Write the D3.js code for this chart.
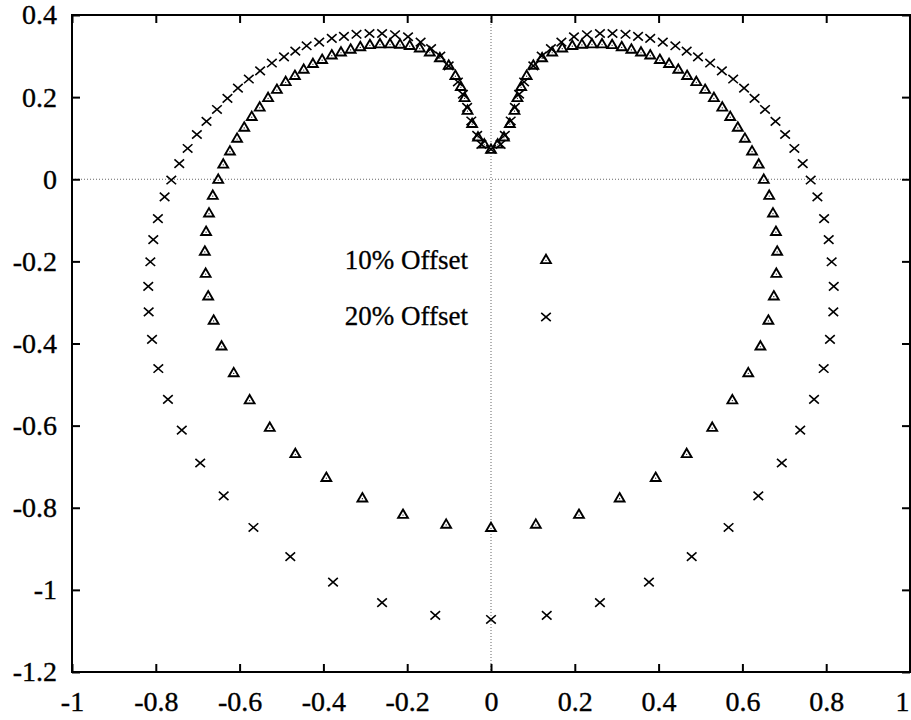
<!DOCTYPE html>
<html>
<head>
<meta charset="utf-8">
<script src="https://cdn.jsdelivr.net/npm/d3@7"></script>
<style>
  html, body { margin: 0; padding: 0; background: #fff; }
  svg { display: block; }
  text { font-family: "Liberation Serif", "Times New Roman", Times, serif; fill: #000; }
</style>
</head>
<body>
<svg id="chart" width="911" height="720"></svg>
<script>
// ---- data ----
const xTicks = [-1, -0.8, -0.6, -0.4, -0.2, 0, 0.2, 0.4, 0.6, 0.8, 1];
const yTicks = [-1.2, -1, -0.8, -0.6, -0.4, -0.2, 0, 0.2, 0.4];
const seriesNames = ["10% Offset", "20% Offset"];

// 10% offset (triangles)
const offset10 = [
  [0.000, -0.848],
  [-0.107, -0.840], [-0.210, -0.816], [-0.307, -0.776], [-0.393, -0.726], [-0.467, -0.668],
  [-0.528, -0.604], [-0.576, -0.537], [-0.614, -0.471], [-0.643, -0.406], [-0.662, -0.343],
  [-0.675, -0.284], [-0.681, -0.229], [-0.683, -0.175], [-0.680, -0.127], [-0.673, -0.082],
  [-0.664, -0.039], [-0.651, 0.000], [-0.639, 0.037], [-0.623, 0.069], [-0.606, 0.100],
  [-0.589, 0.127], [-0.571, 0.153], [-0.552, 0.176], [-0.532, 0.199], [-0.511, 0.219],
  [-0.490, 0.238], [-0.468, 0.253], [-0.447, 0.268], [-0.425, 0.282], [-0.403, 0.292],
  [-0.380, 0.303], [-0.358, 0.310], [-0.335, 0.317], [-0.312, 0.323], [-0.289, 0.328],
  [-0.265, 0.330], [-0.241, 0.330], [-0.217, 0.329], [-0.194, 0.326], [-0.170, 0.320],
  [-0.146, 0.310], [-0.122, 0.296], [-0.101, 0.278], [-0.085, 0.253], [-0.072, 0.226],
  [-0.063, 0.199], [-0.056, 0.168], [-0.045, 0.136], [-0.031, 0.103], [-0.016, 0.086],
  [0.000, 0.073],
  [0.016, 0.086], [0.031, 0.103], [0.045, 0.136], [0.056, 0.168], [0.063, 0.199],
  [0.072, 0.226], [0.085, 0.253], [0.101, 0.278], [0.122, 0.296], [0.146, 0.310],
  [0.170, 0.320], [0.194, 0.326], [0.217, 0.329], [0.241, 0.330], [0.265, 0.330],
  [0.289, 0.328], [0.312, 0.323], [0.335, 0.317], [0.358, 0.310], [0.380, 0.303],
  [0.403, 0.292], [0.425, 0.282], [0.447, 0.268], [0.468, 0.253], [0.490, 0.238],
  [0.511, 0.219], [0.532, 0.199], [0.552, 0.176], [0.571, 0.153], [0.589, 0.127],
  [0.606, 0.100], [0.623, 0.069], [0.639, 0.037], [0.651, 0.000], [0.664, -0.039],
  [0.673, -0.082], [0.680, -0.127], [0.683, -0.175], [0.681, -0.229], [0.675, -0.284],
  [0.662, -0.343], [0.643, -0.406], [0.614, -0.471], [0.576, -0.537], [0.528, -0.604],
  [0.467, -0.668], [0.393, -0.726], [0.307, -0.776], [0.210, -0.816], [0.107, -0.840]
];

// 20% offset (crosses)
const offset20 = [
  [0.000, -1.072],
  [-0.133, -1.062], [-0.260, -1.031], [-0.377, -0.981], [-0.479, -0.919], [-0.567, -0.848],
  [-0.638, -0.771], [-0.694, -0.691], [-0.738, -0.611], [-0.771, -0.536], [-0.794, -0.461],
  [-0.809, -0.390], [-0.817, -0.323], [-0.818, -0.261], [-0.813, -0.201], [-0.806, -0.147],
  [-0.795, -0.096], [-0.779, -0.043], [-0.763, -0.002], [-0.744, 0.038], [-0.724, 0.075],
  [-0.702, 0.109], [-0.679, 0.141], [-0.654, 0.170], [-0.629, 0.197], [-0.604, 0.222],
  [-0.578, 0.244], [-0.551, 0.264], [-0.523, 0.283], [-0.494, 0.298], [-0.467, 0.312],
  [-0.440, 0.325], [-0.410, 0.334], [-0.380, 0.343], [-0.351, 0.348], [-0.321, 0.353],
  [-0.290, 0.355], [-0.260, 0.355], [-0.229, 0.352], [-0.198, 0.347], [-0.168, 0.334],
  [-0.143, 0.318], [-0.121, 0.300], [-0.101, 0.276], [-0.079, 0.237], [-0.067, 0.207],
  [-0.057, 0.175], [-0.047, 0.142], [-0.033, 0.107], [-0.023, 0.085],
  [0.000, 0.073],
  [0.023, 0.085], [0.033, 0.107], [0.047, 0.142], [0.057, 0.175], [0.067, 0.207],
  [0.079, 0.237], [0.101, 0.276], [0.121, 0.300], [0.143, 0.318], [0.168, 0.334],
  [0.198, 0.347], [0.229, 0.352], [0.260, 0.355], [0.290, 0.355], [0.321, 0.353],
  [0.351, 0.348], [0.380, 0.343], [0.410, 0.334], [0.440, 0.325], [0.467, 0.312],
  [0.494, 0.298], [0.523, 0.283], [0.551, 0.264], [0.578, 0.244], [0.604, 0.222],
  [0.629, 0.197], [0.654, 0.170], [0.679, 0.141], [0.702, 0.109], [0.724, 0.075],
  [0.744, 0.038], [0.763, -0.002], [0.779, -0.043], [0.795, -0.096], [0.806, -0.147],
  [0.813, -0.201], [0.818, -0.261], [0.817, -0.323], [0.809, -0.390], [0.794, -0.461],
  [0.771, -0.536], [0.738, -0.611], [0.694, -0.691], [0.638, -0.771], [0.567, -0.848],
  [0.479, -0.919], [0.377, -0.981], [0.260, -1.031], [0.133, -1.062]
];

// ---- chart ----
const svg = d3.select("#chart");
const L = 72, R = 910, T = 15, B = 672;
const x = d3.scaleLinear().domain([-1, 1]).range([L, R]);
const y = d3.scaleLinear().domain([-1.2, 0.4]).range([B, T]);
const fmt = d => String(+(+d).toFixed(1));
const FS = 28;
const SERIF = "'Liberation Serif', 'Times New Roman', Times, serif";

// zero lines (dotted)
svg.append("line").attr("x1", L).attr("x2", R).attr("y1", y(0)).attr("y2", y(0))
  .attr("stroke", "#666").attr("stroke-width", 1).attr("stroke-dasharray", "1,2");
svg.append("line").attr("x1", x(0)).attr("x2", x(0)).attr("y1", T).attr("y2", B)
  .attr("stroke", "#666").attr("stroke-width", 1).attr("stroke-dasharray", "1,2");

function styleAxis(g, showText) {
  g.attr("font-family", SERIF);
  g.select(".domain").remove();
  g.selectAll(".tick line").attr("stroke", "#000").attr("stroke-width", 2);
  if (showText) {
    g.selectAll(".tick text").attr("font-size", FS).attr("font-family", SERIF)
      .attr("fill", "#000").attr("stroke", "#000").attr("stroke-width", 0.35);
  } else {
    g.selectAll(".tick text").remove();
  }
}

svg.append("g").attr("transform", `translate(0,${B})`)
  .call(d3.axisBottom(x).tickValues(xTicks).tickFormat(fmt).tickSizeInner(-8).tickSizeOuter(0).tickPadding(19))
  .call(g => styleAxis(g, true))
  .call(g => g.selectAll(".tick text").filter(d => d === 1).attr("text-anchor", "end").attr("x", -1));
svg.append("g").attr("transform", `translate(0,${T})`)
  .call(d3.axisTop(x).tickValues(xTicks).tickSizeInner(-8).tickSizeOuter(0))
  .call(g => styleAxis(g, false));
svg.append("g").attr("transform", `translate(${L},0)`)
  .call(d3.axisLeft(y).tickValues(yTicks).tickFormat(fmt).tickSizeInner(-8).tickSizeOuter(0).tickPadding(15))
  .call(g => styleAxis(g, true));
svg.append("g").attr("transform", `translate(${R},0)`)
  .call(d3.axisRight(y).tickValues(yTicks).tickSizeInner(-8).tickSizeOuter(0))
  .call(g => styleAxis(g, false));

// frame
svg.append("rect").attr("x", L).attr("y", T).attr("width", R - L).attr("height", B - T)
  .attr("fill", "none").attr("stroke", "#000").attr("stroke-width", 2);

const triPath = "M0,-4.8L4.9,3.6L-4.9,3.6Z";
const crossPath = "M-4.8,-4.2L4.8,4.2M4.8,-4.2L-4.8,4.2";

function drawTri(sel) {
  sel.append("path").attr("d", triPath).attr("fill", "#fff").attr("stroke", "#000").attr("stroke-width", 1.9);
  sel.append("circle").attr("cx", 0).attr("cy", 0.8).attr("r", 0.6).attr("fill", "#000");
}
function drawCross(sel) {
  sel.append("path").attr("d", crossPath).attr("fill", "none").attr("stroke", "#000").attr("stroke-width", 1.6);
}

svg.append("g").selectAll("g").data(offset10).join("g")
  .attr("transform", d => `translate(${x(d[0])},${y(d[1])})`)
  .call(drawTri);
svg.append("g").selectAll("g").data(offset20).join("g")
  .attr("transform", d => `translate(${x(d[0])},${y(d[1])})`)
  .call(drawCross);

// legend
const legend = svg.append("g");
const legRows = [
  { name: seriesNames[0], ty: 269, my: 259.5, draw: drawTri },
  { name: seriesNames[1], ty: 325, my: 317, draw: drawCross }
];
legRows.forEach(r => {
  legend.append("text").attr("x", 468).attr("y", r.ty).attr("text-anchor", "end")
    .attr("font-family", SERIF).attr("font-size", 27)
    .attr("stroke", "#000").attr("stroke-width", 0.3).text(r.name);
  legend.append("g").attr("transform", `translate(546,${r.my})`).call(r.draw);
});
</script>
</body>
</html>
